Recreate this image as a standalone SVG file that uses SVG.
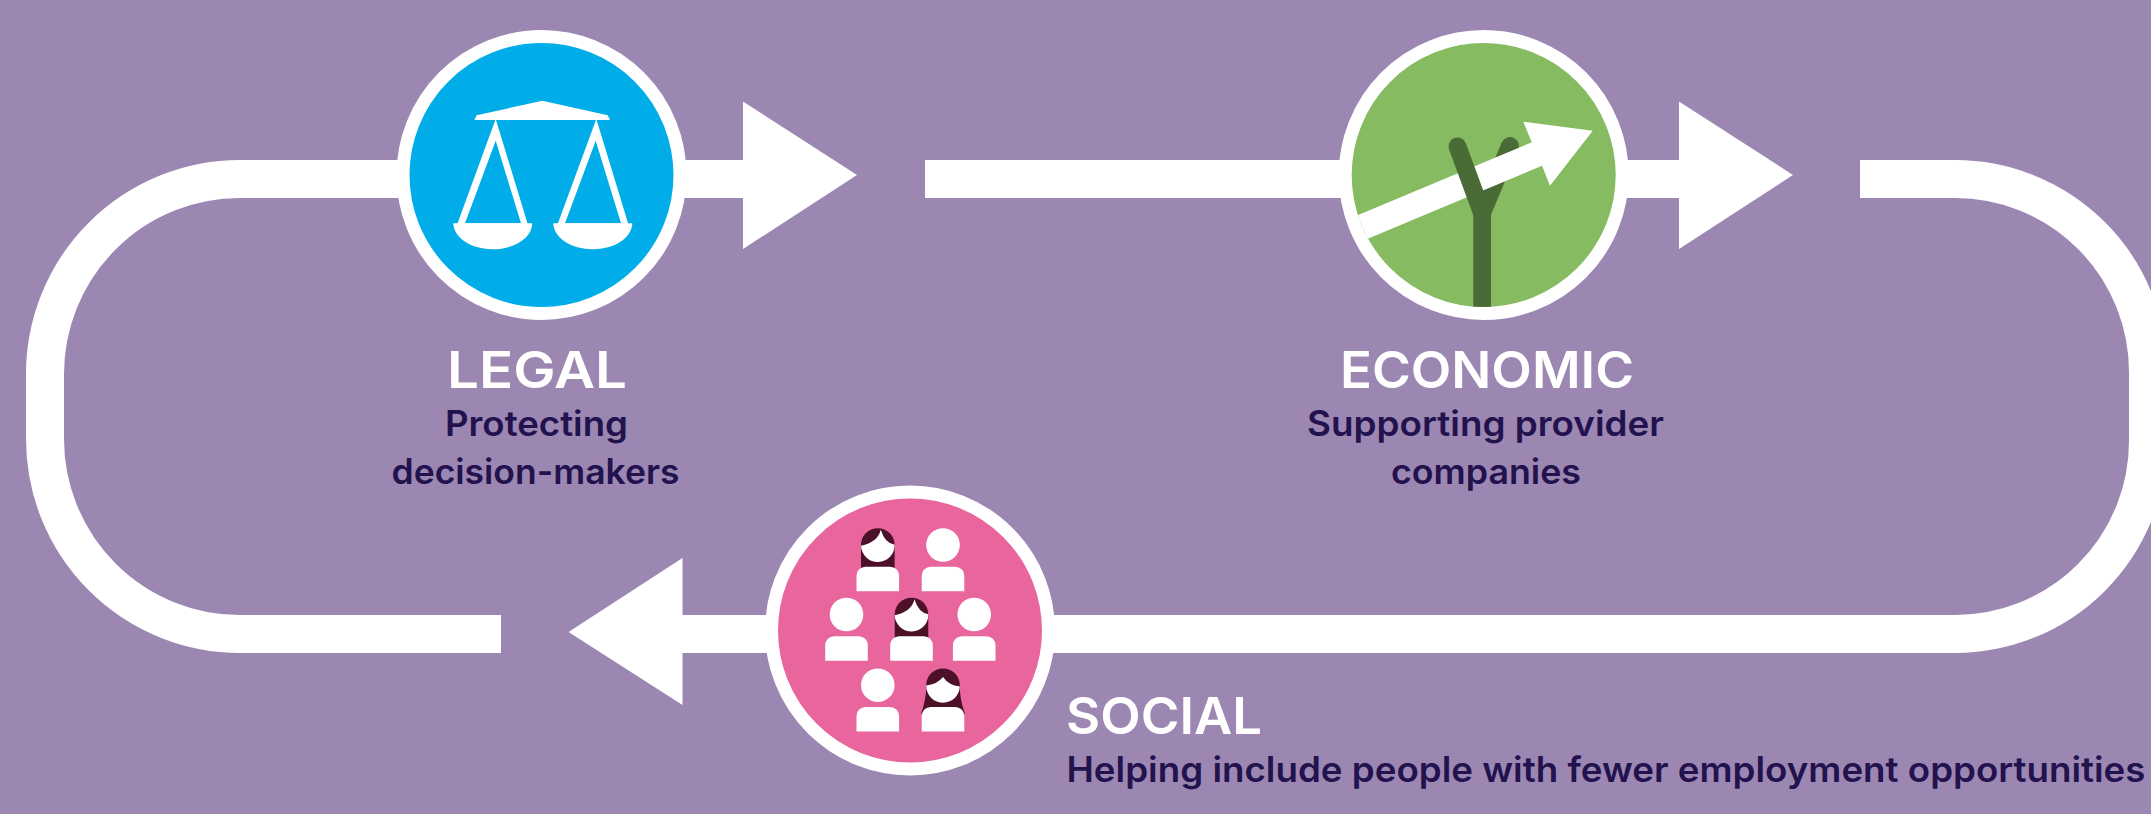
<svg xmlns="http://www.w3.org/2000/svg" xmlns:xlink="http://www.w3.org/1999/xlink" width="2151" height="814" viewBox="0 0 2151 814">
<style>
.bar{fill:none;stroke:#fff;stroke-width:38}
.head{fill:#fff}
.ring{stroke:#fff;stroke-width:13}
.ico{fill:#fff}
.hair{fill:#4d1029}
.twig{fill:none;stroke:#4a6b35;stroke-width:18;stroke-linecap:round}
.h{font:600 51px Inter,"Liberation Sans",sans-serif;fill:#fff}
.s{font:600 35px Inter,"Liberation Sans",sans-serif;fill:#22124d}
</style>
<defs>
<g id="person"><circle cx="0" cy="16.8" r="16.8" class="ico"/><path class="ico" d="M-21.3,63V47.5a9,9 0 0 1 9-9H12.3a9,9 0 0 1 9,9V63Z"/></g>
<g id="woman"><path class="hair" d="M-16.8,40V16.8a16.8,16.8 0 0 1 33.6,0V40Z"/><path class="ico" d="M-16.8,17.5A16.8,16.8 0 0 0 16.8,16.5Q7,15 3,1.5Q0,14 -16.8,17.5Z"/><path class="ico" d="M-21.3,63V47.5a9,9 0 0 1 9-9H12.3a9,9 0 0 1 9,9V63Z"/></g>
<g id="womanlong"><path class="hair" d="M-22,45Q-16.8,32 -16.8,16.8a16.8,16.8 0 0 1 33.6,0Q16.8,32 22,45Z"/><path class="ico" d="M-16.8,17A16.8,16.8 0 0 0 16.8,18Q6,17 0,8.5Q-6,16 -16.8,17Z"/><path class="ico" d="M-21.3,63V47.5a9,9 0 0 1 9-9H12.3a9,9 0 0 1 9,9V63Z"/></g>
<clipPath id="greenclip"><circle cx="1483.7" cy="175" r="132"/></clipPath>
</defs>
<rect width="2151" height="814" fill="#9c87b3"/>
<g id="connectors">
<path class="bar" d="M501,634H240A195,195 0 0 1 45,439V374A195,195 0 0 1 240,179H745"/>
<polygon class="head" points="743,101.5 857,175 743,249"/>
<path class="bar" d="M925,179H1681"/>
<polygon class="head" points="1679,101.5 1793,175 1679,249"/>
<path class="bar" d="M1860,179H1955A193,193 0 0 1 2148,372V441A193,193 0 0 1 1955,634H681"/>
<polygon class="head" points="682.5,558 568.5,632 682.5,705"/>
</g>
<g id="node-legal">
<circle cx="541.5" cy="175" r="138.5" fill="#00ade9" class="ring"/>
<path class="ico" d="M474.3,120L476.7,115.3L542.3,100.7L607.7,115.3L610,120Z"/>
<path class="ico" fill-rule="evenodd" d="M495.7,119L457.3,224H527.7ZM495.7,140.7L521,223.3H465Z"/>
<path class="ico" fill-rule="evenodd" d="M596.3,119L557.7,224H628.3ZM595.7,140.7L621,223.3H565Z"/>
<path class="ico" d="M453.3,223.3H532.3C532,238 514,249.3 492.8,249.3C471.5,249.3 453.6,238 453.3,223.3Z"/>
<path class="ico" d="M553.3,223.3H632.3C632,238 614,249.3 592.8,249.3C571.5,249.3 553.6,238 553.3,223.3Z"/>
<text class="h" x="447" y="388" textLength="180" lengthAdjust="spacingAndGlyphs">LEGAL</text>
<text class="s" x="445" y="436" textLength="183" lengthAdjust="spacingAndGlyphs">Protecting</text>
<text class="s" x="391.5" y="483.5" textLength="288" lengthAdjust="spacingAndGlyphs">decision-makers</text>
</g>
<g id="node-economic">
<circle cx="1483.7" cy="175" r="138.5" fill="#86bb62" class="ring"/>
<g clip-path="url(#greenclip)">
<path class="twig" d="M1510,146L1482,213"/>
<polygon class="ico" points="1350,218.5 1531.7,142.3 1523.3,121.7 1592.7,130.7 1550,185.7 1542,165.7 1360,242"/>
<path class="twig" d="M1457.5,146.5L1482,213"/>
<rect x="1473.3" y="210" width="17.7" height="100" fill="#4a6b35"/>
</g>
<text class="h" x="1340" y="388" textLength="294" lengthAdjust="spacingAndGlyphs">ECONOMIC</text>
<text class="s" x="1307" y="436" textLength="357" lengthAdjust="spacingAndGlyphs">Supporting provider</text>
<text class="s" x="1391" y="483.5" textLength="190" lengthAdjust="spacingAndGlyphs">companies</text>
</g>
<g id="node-social">
<circle cx="910" cy="630.5" r="138.5" fill="#e8659d" class="ring"/>
<use xlink:href="#woman" href="#woman" x="877.8" y="528.2"/>
<use xlink:href="#person" href="#person" x="943" y="528.2"/>
<use xlink:href="#person" href="#person" x="846.5" y="597.7"/>
<use xlink:href="#woman" href="#woman" x="911.5" y="597.7"/>
<use xlink:href="#person" href="#person" x="974.2" y="597.7"/>
<use xlink:href="#person" href="#person" x="877.8" y="668.4"/>
<use xlink:href="#womanlong" href="#womanlong" x="943" y="668.4"/>
<text class="h" x="1066" y="734" textLength="196" lengthAdjust="spacingAndGlyphs">SOCIAL</text>
<text class="s" x="1066.5" y="782" textLength="1079" lengthAdjust="spacingAndGlyphs">Helping include people with fewer employment opportunities</text>
</g>
</svg>
